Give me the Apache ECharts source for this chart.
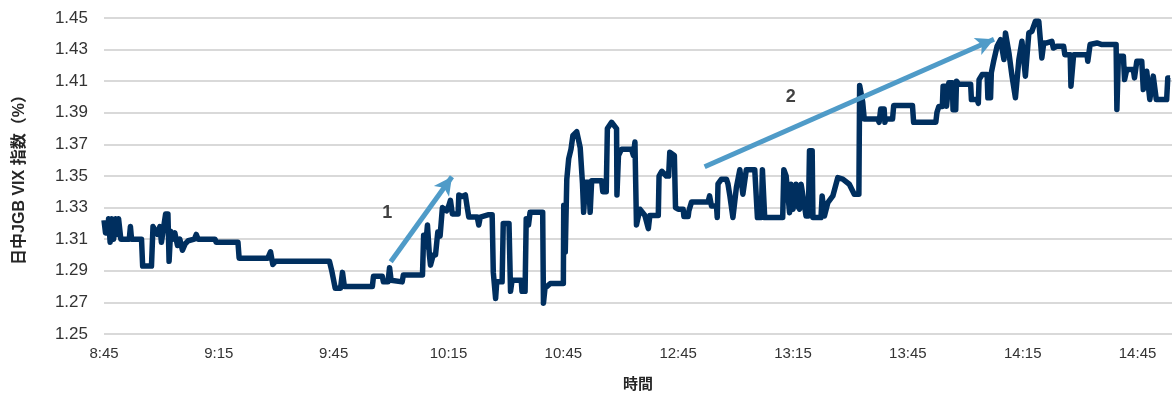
<!DOCTYPE html>
<html>
<head>
<meta charset="utf-8">
<script src="https://cdn.jsdelivr.net/npm/echarts@6/dist/echarts.min.js"></script>
<style>
html,body{margin:0;padding:0;background:#fff;}
#chart{width:1175px;height:396px;}
</style>
</head>
<body>
<div id="chart"></div>
<script>
// Session minutes from 8:45 (lunch break removed: 11:00 -> 12:30 joined)
const tickLabels = ['8:45','9:15','9:45','10:15','10:45','12:45','13:15','13:45','14:15','14:45'];
const minutes = [
0,0.4,1.0,1.2,1.6,2.0,2.5,3.0,3.4,3.8,4.4,5.6,6.0,6.6,6.9,7.2,9.8,10.1,12.4,12.8,
13.3,14.0,14.6,15.0,15.6,16.1,16.7,17.0,17.4,18.0,18.5,19.2,19.8,20.5,21.2,22.0,23.6,24.1,24.6,29.0,
29.3,35.0,35.3,42.8,43.5,44.1,44.8,58.9,59.5,60.4,61.8,62.3,62.8,70.1,70.4,72.7,73.0,74.2,74.6,75.0,
77.9,78.2,83.2,83.5,84.0,84.5,85.0,85.3,86.0,86.6,87.2,87.8,88.4,89.5,90.1,90.5,91.0,92.5,92.7,93.5,
94.4,94.8,95.3,97.5,97.9,98.3,100.5,101.4,101.7,102.3,102.6,104.0,104.3,105.8,106.2,106.6,109.0,109.2,110.0,110.3,
110.9,111.3,114.6,114.8,115.2,116.6,120.0,120.1,120.5,120.9,121.4,122.0,122.5,123.5,124.4,125.0,125.3,125.8,126.6,127.0,
127.4,130.0,130.3,131.2,131.5,132.6,133.9,134.0,134.4,135.2,137.8,138.3,138.7,139.1,139.5,140.0,141.3,142.2,142.6,144.8,
145.0,145.7,146.9,147.5,147.8,149.0,149.3,150.0,151.3,151.5,152.6,152.8,153.5,157.8,158.2,158.7,160.0,160.2,160.4,161.3,
162.6,163.0,163.5,164.3,165.2,166.1,166.9,167.8,170.0,170.7,171.7,172.0,172.6,177.3,177.6,178.2,179.1,179.5,180.0,180.8,
181.2,181.7,182.1,182.6,183.4,184.0,184.3,185.0,185.2,187.3,187.6,188.2,189.1,190.4,191.7,193.0,194.7,196.0,197.2,197.4,
198.2,198.6,202.1,202.5,202.9,203.8,204.0,204.2,206.0,206.3,211.2,211.5,217.3,217.6,218.1,219.0,219.2,219.9,220.1,220.7,
221.6,221.8,222.5,222.7,223.3,226.4,226.6,228.1,228.4,228.6,229.4,230.7,230.9,231.6,231.8,232.5,233.3,234.2,235.1,235.5,
236.4,237.2,238.1,239.0,239.8,240.7,241.6,242.4,243.3,244.2,245.0,245.5,246.3,247.6,248.0,248.9,250.7,251.0,252.4,252.6,
253.3,256.8,257.0,257.6,259.4,260.7,264.4,264.6,265.0,266.3,266.6,267.2,268.9,269.2,269.8,271.1,271.5,272.0,272.4,272.8,
273.2,273.7,274.1,274.6,274.9,277.6,277.9,278.5
];
const vix = [
1.322,1.314,1.314,1.323,1.308,1.323,1.310,1.323,1.313,1.323,1.310,1.310,1.309,1.310,1.318,1.310,1.310,1.293,1.293,1.318,
1.316,1.313,1.318,1.308,1.318,1.326,1.326,1.296,1.315,1.310,1.314,1.306,1.310,1.303,1.307,1.309,1.310,1.313,1.310,1.310,
1.308,1.308,1.298,1.298,1.302,1.294,1.296,1.296,1.290,1.279,1.279,1.289,1.280,1.280,1.2865,1.2865,1.283,1.283,1.292,1.284,
1.283,1.2874,1.2874,1.3125,1.305,1.319,1.300,1.2936,1.300,1.300,1.3146,1.312,1.330,1.328,1.3315,1.3346,1.326,1.326,1.338,1.337,
1.338,1.3315,1.324,1.324,1.319,1.324,1.3255,1.3255,1.289,1.2725,1.283,1.283,1.320,1.320,1.277,1.284,1.284,1.277,1.277,1.323,
1.319,1.327,1.327,1.2694,1.279,1.282,1.282,1.3315,1.302,1.348,1.361,1.367,1.3757,1.378,1.368,1.345,1.327,1.346,1.346,1.327,
1.347,1.347,1.340,1.340,1.380,1.384,1.380,1.338,1.363,1.367,1.367,1.363,1.3715,1.319,1.319,1.329,1.325,1.3167,1.325,1.325,
1.350,1.353,1.350,1.350,1.365,1.363,1.330,1.329,1.329,1.3243,1.3243,1.328,1.3336,1.3336,1.3374,1.331,1.3311,1.3237,1.345,1.348,
1.348,1.345,1.3374,1.3237,1.3427,1.354,1.3385,1.354,1.354,1.3237,1.3237,1.354,1.3237,1.3237,1.354,1.350,1.3268,1.3448,1.329,1.3448,
1.3311,1.329,1.3448,1.3374,1.3247,1.3247,1.366,1.366,1.3237,1.3237,1.3374,1.3247,1.3332,1.3374,1.349,1.348,1.3448,1.3385,1.3385,1.4072,
1.3967,1.3861,1.3861,1.384,1.3924,1.3924,1.384,1.3861,1.3861,1.3946,1.3946,1.384,1.384,1.3903,1.394,1.394,1.4068,1.4068,1.3942,1.409,
1.409,1.392,1.392,1.410,1.408,1.408,1.3984,1.3984,1.396,1.411,1.4142,1.4142,1.3995,1.3995,1.4153,1.4237,1.4321,1.4363,1.4237,1.4405,
1.4279,1.4132,1.3995,1.4237,1.4353,1.4132,1.4405,1.4416,1.4479,1.4479,1.4247,1.4342,1.4342,1.4353,1.431,1.4321,1.4321,1.4268,1.4268,1.4068,
1.4268,1.4268,1.4226,1.4332,1.4342,1.4332,1.4332,1.3921,1.4258,1.4258,1.411,1.4174,1.4174,1.4121,1.4226,1.4226,1.4047,1.4047,1.4163,1.4163,
1.3984,1.3984,1.4132,1.4132,1.3984,1.3984,1.4121,1.4121
];
// Annotation arrows [startMin, startVal, endMin, endVal] and labels
const arrow1 = [74.9, 1.2957, 90.9, 1.3495];
const arrow2 = [156.9, 1.3559, 232.5, 1.4365];
const annotLabels = [[74.0, 1.3266, '1'], [179.4, 1.4000, '2']];

const chart = echarts.init(document.getElementById('chart'), null, {renderer:'canvas'});
const lineData = minutes.map((m, i) => [m, vix[i]]);
const option = {
  animation: false,
  grid: {left: 104, right: 2, top: 18, bottom: 62},
  xAxis: {
    type: 'value', min: 0, max: 279, interval: 30,
    name: '時間', nameLocation: 'middle', nameGap: 42,
    nameTextStyle: {fontSize: 15, fontWeight: 'bold', color: '#262626', fontFamily: 'Noto Sans CJK JP'},
    axisLine: {show: false}, axisTick: {show: false}, splitLine: {show: false},
    axisLabel: {
      fontSize: 15, color: '#333', margin: 12, fontFamily: 'Liberation Sans',
      formatter: v => (Math.abs(v / 30 - Math.round(v / 30)) < 1e-6 ? (tickLabels[Math.round(v / 30)] || '') : '')
    }
  },
  yAxis: {
    type: 'value', min: 1.25, max: 1.45, interval: 0.02,
    name: '日中JGB VIX 指数（%）', nameLocation: 'middle', nameGap: 76, nameRotate: 90,
    nameTextStyle: {fontSize: 16, fontWeight: 'bold', color: '#262626', fontFamily: 'Liberation Sans, Noto Sans CJK JP'},
    axisLine: {show: false}, axisTick: {show: false},
    splitLine: {lineStyle: {color: '#d9d9d9', width: 2}},
    axisLabel: {fontSize: 17, color: '#333', margin: 16, fontFamily: 'Liberation Sans', formatter: v => v.toFixed(2)}
  },
  series: [
    {
      type: 'line', data: lineData, showSymbol: false, symbol: 'none',
      lineStyle: {color: '#002f5f', width: 5.5, join: 'round'}, z: 3,
      markLine: {
        silent: true, symbol: ['none', 'arrow'], symbolSize: [14, 18],
        lineStyle: {color: '#4f9bc8', width: 5, type: 'solid'},
        label: {show: false},
        data: [
          [{coord: [arrow1[0], arrow1[1]]}, {coord: [arrow1[2], arrow1[3]]}],
          [{coord: [arrow2[0], arrow2[1]]}, {coord: [arrow2[2], arrow2[3]]}]
        ]
      }
    },
    {
      type: 'scatter', data: annotLabels, symbolSize: 0, z: 5,
      label: {show: true, position: 'inside', formatter: p => p.data[2],
        fontSize: 18, fontWeight: 'bold', color: '#111', fontFamily: 'Liberation Sans'}
    }
  ]
};
chart.setOption(option);
</script>
</body>
</html>
